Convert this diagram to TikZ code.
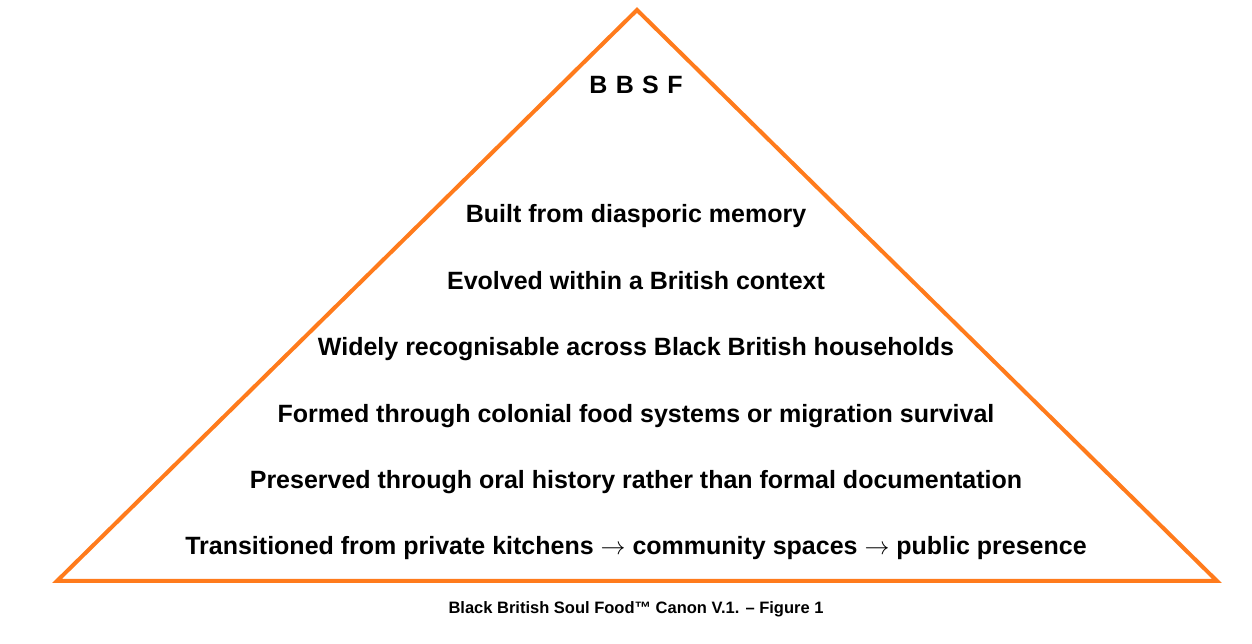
\documentclass[tikz,border=0pt]{standalone}
\usepackage{fontspec}
\setmainfont{Liberation Sans}
\usetikzlibrary{positioning}
\definecolor{bbsforange}{RGB}{255, 123, 28}

\begin{document}
\begin{tikzpicture}[x=1pt, y=1pt,
        node distance=42pt,
        edge/.style={draw=bbsforange, line width=4pt, line join=miter},
        ttl/.style={font=\fontsize{25}{30}\selectfont\bfseries},
        crit/.style={font=\fontsize{25}{30}\selectfont\bfseries, inner sep=0pt, text height=18pt, text depth=6pt},
        figcap/.style={font=\fontsize{16.5}{20}\selectfont\bfseries}
      ]
        \useasboundingbox (0,0) rectangle (1252,644);
        % Pyramide
        \coordinate (apex) at (637,634);
        \coordinate (bl) at (57,63);
        \coordinate (br) at (1217,63);
        \draw[edge] (apex) -- (br) -- (bl) -- cycle;
        \node[ttl] (bbsf) at (636,559) {B\,\,B\,\,S\,\,F};
        % Kriterien
        \node[crit] (c1) at (636,427) {Built from diasporic memory};
        \node[crit, below=of c1] (c2) {Evolved within a British context};
        \node[crit, below=of c2] (c3) {Widely recognisable across Black British households};
        \node[crit, below=of c3] (c4) {Formed through colonial food systems or migration survival};
        \node[crit, below=of c4] (c5) {Preserved through oral history rather than formal documentation};
        \node[crit, below=of c5] (c6) {Transitioned from private kitchens $\rightarrow$ community spaces $\rightarrow$ public presence};
        \node[figcap] (caption) at (636,35) {Black British Soul Food™ Canon V.1. – Figure 1};
      \end{tikzpicture}
\end{document}
